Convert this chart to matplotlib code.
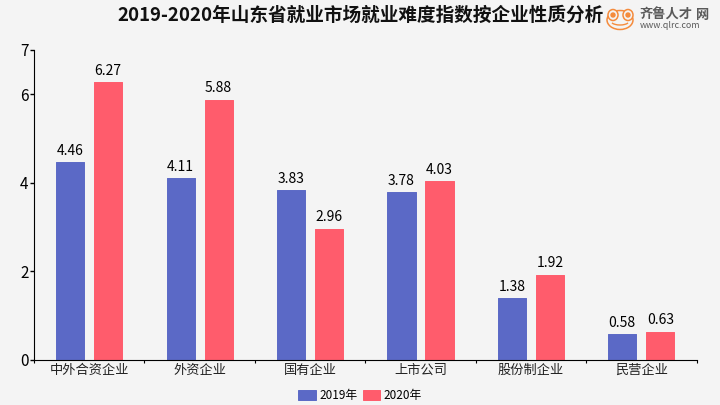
import numpy as np
import matplotlib.pyplot as plt
from matplotlib.patches import Ellipse, Arc

plt.rcParams['font.family'] = ['Noto Sans CJK SC', 'DejaVu Sans']

categories = ['中外合资企业', '外资企业', '国有企业', '上市公司', '股份制企业', '民营企业']
values_2019 = [4.46, 4.11, 3.83, 3.78, 1.38, 0.58]
values_2020 = [6.27, 5.88, 2.96, 4.03, 1.92, 0.63]
yticks = [0, 2, 4, 6, 7]

BLUE = '#5b69c6'
RED = '#ff5c6c'
BACKGROUND = '#f4f4f4'


def draw_bars(x, values, color, label):
    '''bars with slightly rounded corners and a value on top'''
    bars = plt.bar(x, values, 0.255, color=color, edgecolor=color, linewidth=0.7,
                   joinstyle='round', label=label)
    plt.bar_label(bars, labels=['%.2f' % v for v in values], padding=3,
                  fontsize=10, color='black')


def draw_logo():
    '''watermark in the top right corner'''
    logo = plt.gcf().add_axes([0, 0, 1, 1], facecolor='none')
    logo.set_xlim(0, 720)
    logo.set_ylim(405, 0)
    logo.axis('off')
    orange = '#f58b3c'
    logo.add_patch(Ellipse((620, 20), 26, 19, fill=False, edgecolor=orange, linewidth=1.1))
    for cx in (613, 628):
        logo.add_patch(Ellipse((cx, 15), 10, 11, facecolor=BACKGROUND, edgecolor=orange, linewidth=1.1))
        logo.add_patch(Ellipse((cx, 15), 4, 4, color=orange))
    logo.add_patch(Arc((620, 20), 20, 10, theta1=20, theta2=160, edgecolor=orange, linewidth=1))
    logo.text(640, 15, '齐鲁人才', ha='left', va='center', fontsize=9.5,
              fontweight='bold', color='#5a5a5a')
    logo.text(696, 15, '网', ha='left', va='center', fontsize=9.5,
              fontweight='bold', color='#5a5a5a')
    logo.text(640, 26, 'www.qlrc.com', ha='left', va='center', fontsize=6.4, color='#5a5a5a')


if __name__ == "__main__":
    fig = plt.figure(figsize=(7.2, 4.05), dpi=100, facecolor=BACKGROUND)
    plt.axes([34 / 720, 1 - 359.5 / 405, 662.5 / 720, 309.5 / 405], facecolor=BACKGROUND)

    x = np.arange(len(categories))
    draw_bars(x - 0.172, values_2019, BLUE, '2019年')
    draw_bars(x + 0.172, values_2020, RED, '2020年')

    plt.xlim(-0.5, len(categories) - 0.5)
    plt.ylim(0, 7)
    plt.yticks(yticks, fontsize=11)
    plt.xticks(x, categories, fontsize=9.5, color='#222222')
    plt.tick_params(axis='y', length=3, width=1, pad=1)
    plt.tick_params(axis='x', length=0, pad=3)
    # small ticks between the groups
    plt.gca().set_xticks(np.arange(len(categories) + 1) - 0.5, minor=True)
    plt.tick_params(axis='x', which='minor', length=2, width=0.8)
    plt.gca().spines[['top', 'right']].set_visible(False)

    plt.legend(loc='lower center', bbox_to_anchor=(360 / 720, 0), bbox_transform=fig.transFigure,
               ncol=2, frameon=False, fontsize=8.5, handlelength=1.45, handleheight=0.9,
               handletextpad=0.3, columnspacing=0.45, borderpad=0.15, borderaxespad=0.1)
    fig.text(360.5 / 720, 1 - 15 / 405, '2019-2020年山东省就业市场就业难度指数按企业性质分析',
             ha='center', va='center', fontsize=13.4, fontweight='bold', color='#111111')

    draw_logo()
    plt.savefig('out.png', dpi=100, facecolor=BACKGROUND)
